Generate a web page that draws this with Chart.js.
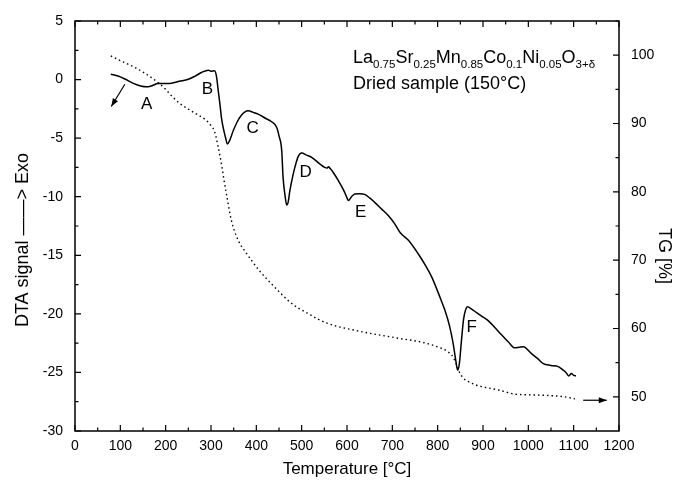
<!DOCTYPE html>
<html><head><meta charset="utf-8">
<script src="https://cdn.jsdelivr.net/npm/chart.js@4/dist/chart.umd.min.js"></script>
<style>html,body{margin:0;padding:0;background:#fff}#wrap{width:676px;height:481px;position:relative}</style>
</head><body><div id="wrap"><canvas id="c" width="676" height="481"></canvas></div>
<script>
// DTA curve: temperature (°C) and signal
const DTA_T = [79,95,110,130,145,158,170,183,200,213,230,250,265,279,294,300,308,312,316,320,323,328,332,336,340,349,358,367,375,382,393,404,420,433,445,450,456,459,463,467,470,474,480,485,492,500,511,522,540,551,556,559,563,570,581,592,600,603,610,617,628,639,650,661,676,691,705,718,735,757,772,787,805,816,826,834,840,844,848,852,857,862,866,875,886,897,912,934,956,970,980,989,1007,1020,1033,1050,1066,1077,1083,1089,1095,1100,1105];
const DTA_V = [0.46,0.30,0.05,-0.35,-0.55,-0.62,-0.52,-0.34,-0.33,-0.31,-0.15,0.03,0.3,0.6,0.8,0.72,0.76,0.3,-0.96,-2.2,-3.24,-4.3,-4.94,-5.5,-5.3,-4.37,-3.6,-3.05,-2.75,-2.67,-2.8,-2.95,-3.3,-3.58,-4.09,-4.8,-6.07,-8.35,-9.8,-10.7,-10.5,-9.48,-8.3,-7.5,-6.6,-6.27,-6.45,-6.64,-7.2,-7.5,-7.55,-7.45,-7.6,-7.95,-8.63,-9.4,-10.1,-10.33,-10.0,-9.76,-9.74,-9.8,-10.1,-10.48,-11.04,-11.6,-12.3,-13.1,-13.7,-14.87,-15.8,-16.86,-18.57,-19.7,-21.0,-22.5,-24.0,-24.8,-24.2,-22.5,-20.5,-19.6,-19.4,-19.6,-19.9,-20.2,-20.6,-21.5,-22.4,-22.9,-22.85,-22.8,-23.4,-23.8,-24.25,-24.4,-24.5,-24.8,-25.0,-25.3,-25.1,-25.25,-25.3];
// TG curve: temperature (°C) and mass (%)
const TG_T = [79,100,132,160,183,200,213,230,250,270,286,300,308,316,323,328,334,345,360,375,389,405,426,450,470,490,514,535,559,585,617,650,676,720,765,800,820,831,840,848,856,863,875,886,897,934,970,1000,1044,1080,1103];
const TG_V = [99.9,99.2,98.2,97.1,96.0,95.0,94.05,93.0,92.1,91.3,90.65,89.7,88.8,86.5,84.1,82.0,79.7,75.8,72.9,71.3,70.0,68.6,67.05,65.4,64.1,63.1,62.2,61.4,60.7,60.2,59.75,59.3,59.0,58.5,58.0,57.3,56.7,56.1,55.0,53.6,52.8,52.4,52.0,51.7,51.5,51.0,50.4,50.3,50.2,50.0,49.7];
// Tick values
const X_TICKS = [0,100,200,300,400,500,600,700,800,900,1000,1100,1200];
const Y_TICKS = [-30,-25,-20,-15,-10,-5,0,5];
const TG_TICKS = [50,60,70,80,90,100];
// Peak labels (data coordinates on DTA axis)
const PEAK_LABELS = ['A','B','C','D','E','F'];
const PEAK_T = [158,292,392,509,630,875];
const PEAK_V = [-2.07,-0.8,-4.2,-7.95,-11.35,-21.15];
// Arrows (data coordinates): DTA arrow on left axis, TG arrow on right axis
const ARROW_DTA = [[110,-0.4],[80,-2.3]];
const ARROW_TG = [[1121,49.5],[1173,49.5]];

const FONT = "'Liberation Sans', Arial, sans-serif";

function arrow(ctx, x1, y1, x2, y2) {
  ctx.beginPath(); ctx.moveTo(x1,y1); ctx.lineTo(x2,y2); ctx.stroke();
  const a = Math.atan2(y2-y1, x2-x1), L = 8, W = 3;
  ctx.beginPath();
  ctx.moveTo(x2,y2);
  ctx.lineTo(x2 - L*Math.cos(a) + W*Math.sin(a), y2 - L*Math.sin(a) - W*Math.cos(a));
  ctx.lineTo(x2 - L*Math.cos(a) - W*Math.sin(a), y2 - L*Math.sin(a) + W*Math.cos(a));
  ctx.closePath(); ctx.fill();
}

const decor = {
  id: 'decor',
  afterDatasetsDraw(chart) {
    const ctx = chart.ctx, a = chart.chartArea;
    const sx = chart.scales.x, sy = chart.scales.y, s2 = chart.scales.y2;
    ctx.save();
    ctx.strokeStyle = '#000'; ctx.fillStyle = '#000';
    // frame
    ctx.lineWidth = 1.5;
    ctx.strokeRect(a.left, a.top, a.right - a.left, a.bottom - a.top);
    // ticks (inward)
    ctx.lineWidth = 1.2;
    ctx.beginPath();
    for (let v = 0; v <= 1200; v += 50) {
      const px = sx.getPixelForValue(v), len = v % 100 === 0 ? 6 : 3.5;
      ctx.moveTo(px, a.bottom); ctx.lineTo(px, a.bottom - len);
      ctx.moveTo(px, a.top); ctx.lineTo(px, a.top + len);
    }
    for (let v = -30; v <= 5; v += 2.5) {
      const py = sy.getPixelForValue(v), len = v % 5 === 0 ? 6 : 3.5;
      ctx.moveTo(a.left, py); ctx.lineTo(a.left + len, py);
    }
    for (let v = 50; v <= 105; v += 5) {
      const py = s2.getPixelForValue(v), len = v % 10 === 0 ? 6 : 3.5;
      ctx.moveTo(a.right, py); ctx.lineTo(a.right - len, py);
    }
    ctx.stroke();
    // arrows
    ctx.lineWidth = 1.2;
    arrow(ctx, sx.getPixelForValue(ARROW_DTA[0][0]), sy.getPixelForValue(ARROW_DTA[0][1]),
               sx.getPixelForValue(ARROW_DTA[1][0]), sy.getPixelForValue(ARROW_DTA[1][1]));
    arrow(ctx, sx.getPixelForValue(ARROW_TG[0][0]), s2.getPixelForValue(ARROW_TG[0][1]),
               sx.getPixelForValue(ARROW_TG[1][0]), s2.getPixelForValue(ARROW_TG[1][1]));
    // peak labels
    ctx.font = '17px ' + FONT; ctx.textAlign = 'center'; ctx.textBaseline = 'middle';
    PEAK_LABELS.forEach((t, i) => ctx.fillText(t, sx.getPixelForValue(PEAK_T[i]), sy.getPixelForValue(PEAK_V[i])));
    // axis titles (rotated)
    ctx.font = '18px ' + FONT;
    ctx.save(); ctx.translate(23, 240); ctx.rotate(-Math.PI / 2);
    ctx.fillText('DTA signal \u2014\u2014> Exo', 0, 0); ctx.restore();
    ctx.save(); ctx.translate(664, 256); ctx.rotate(Math.PI / 2);
    ctx.fillText('TG [%]', 0, 0); ctx.restore();
    // formula text
    const parts = [['La',0],['0.75',1],['Sr',0],['0.25',1],['Mn',0],['0.85',1],['Co',0],['0.1',1],['Ni',0],['0.05',1],['O',0],['3+\u03b4',1]];
    let x = 353; const base = 63;
    ctx.textAlign = 'left'; ctx.textBaseline = 'alphabetic';
    parts.forEach(([t, sub]) => {
      ctx.font = (sub ? '11.5px ' : '18px ') + FONT;
      ctx.fillText(t, x, sub ? base + 5 : base);
      x += ctx.measureText(t).width;
    });
    ctx.font = '18px ' + FONT;
    ctx.fillText('Dried sample (150\u00b0C)', 353, 89);
    ctx.restore();
  }
};

const tickFont = { family: FONT, size: 14 };
const titleFont = { family: FONT, size: 17 };
const plain = v => String(v);

new Chart(document.getElementById('c'), {
  type: 'line',
  data: {
    datasets: [
      { data: DTA_T.map((t, i) => ({ x: t, y: DTA_V[i] })), yAxisID: 'y',
        borderColor: '#000', borderWidth: 1.5, pointRadius: 0, cubicInterpolationMode: 'monotone', fill: false },
      { data: TG_T.map((t, i) => ({ x: t, y: TG_V[i] })), yAxisID: 'y2',
        borderColor: '#000', borderWidth: 1.4, borderDash: [1.5, 3], pointRadius: 0, cubicInterpolationMode: 'monotone', fill: false }
    ]
  },
  options: {
    responsive: false, animation: false, devicePixelRatio: 1,
    layout: { padding: { top: 21, left: 0, right: 0, bottom: 0 } },
    plugins: { legend: { display: false }, tooltip: { enabled: false } },
    scales: {
      x: { type: 'linear', position: 'bottom', min: 0, max: 1200,
        afterBuildTicks: s => { s.ticks = X_TICKS.map(v => ({ value: v })); },
        afterFit: s => { s.height = 50; },
        ticks: { font: tickFont, color: '#000', padding: 7, maxRotation: 0, autoSkip: false, callback: plain },
        grid: { display: false, drawTicks: false }, border: { display: false },
        title: { display: true, text: 'Temperature [\u00b0C]', font: titleFont, color: '#000', padding: { top: 0, bottom: 1 } } },
      y: { type: 'linear', position: 'left', min: -30, max: 5,
        afterBuildTicks: s => { s.ticks = Y_TICKS.map(v => ({ value: v })); },
        afterFit: s => { s.width = 75; },
        ticks: { font: tickFont, color: '#000', padding: 12, callback: plain },
        grid: { display: false, drawTicks: false }, border: { display: false } },
      y2: { type: 'linear', position: 'right', min: 45, max: 105,
        afterBuildTicks: s => { s.ticks = TG_TICKS.map(v => ({ value: v })); },
        afterFit: s => { s.width = 57; },
        ticks: { font: tickFont, color: '#000', padding: 12, callback: plain },
        grid: { display: false, drawTicks: false }, border: { display: false } }
    }
  },
  plugins: [decor]
});
</script></body></html>
